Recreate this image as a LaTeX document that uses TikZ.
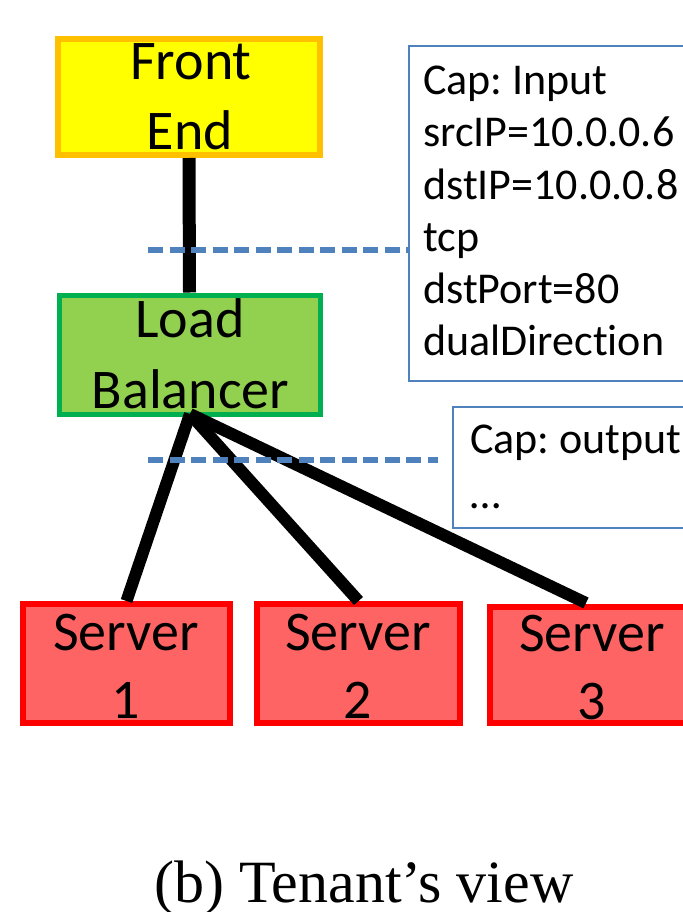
\documentclass[tikz,border=0pt]{standalone}
\usepackage{fontspec}
\setmainfont[Ligatures=NoCommon]{Carlito}
\newfontfamily\captionfont{Liberation Serif}
\frenchspacing
\definecolor{feFill}{HTML}{FFFF00}
\definecolor{feLine}{HTML}{FFC000}
\definecolor{lbFill}{HTML}{92D050}
\definecolor{lbLine}{HTML}{00B050}
\definecolor{srvFill}{HTML}{FF6464}
\definecolor{srvLine}{HTML}{FF0000}
\definecolor{capBlue}{HTML}{4F81BD}
\begin{document}
\begin{tikzpicture}[x=1pt,y=-1pt,
  box/.style={draw, rectangle, inner sep=0pt, line width=6pt},
  boxtext/.style={anchor=base, inner sep=0pt, font=\fontsize{56}{70}\selectfont},
  captext/.style={anchor=base west, inner sep=0pt, font=\fontsize{44}{52}\selectfont},
  capbox/.style={draw=capBlue, line width=2pt, rectangle, inner sep=0pt},
  link/.style={line width=12pt, black},
  tap/.style={draw=capBlue, line width=6pt, dash pattern=on 15pt off 6.5pt}]
\useasboundingbox (0,0) rectangle (682,912);

% component boxes
\node[box, fill=feFill, draw=feLine, minimum width=262pt, minimum height=116pt] (fe) at (189,97) {};
\node[box, fill=lbFill, draw=lbLine, line width=5pt, minimum width=261pt, minimum height=119pt] (lb) at (189.5,354.5) {};
\node[box, fill=srvFill, draw=srvLine, minimum width=207pt, minimum height=119pt] (s1) at (126.5,663.5) {};
\node[box, fill=srvFill, draw=srvLine, minimum width=203pt, minimum height=119pt] (s2) at (358.5,663.5) {};
\node[box, fill=srvFill, draw=srvLine, minimum width=206pt, minimum height=116pt] (s3) at (593,665) {};

% box labels
\node[boxtext] (feA) at (191,80) {Front};
\node[boxtext] (feB) at (190,150) {End};
\node[boxtext] (lbA) at (190,337) {Load};
\node[boxtext] (lbB) at (190.5,408) {Balancer};
\node[boxtext] (s1A) at (126,650) {Server};
\node[boxtext] (s1B) at (126,718) {1};
\node[boxtext] (s2A) at (358,650) {Server};
\node[boxtext] (s2B) at (358,718) {2};
\node[boxtext] (s3A) at (592,651) {Server};
\node[boxtext] (s3B) at (592,719) {3};

% capability boxes
\node[capbox, minimum width=291pt, minimum height=335pt] (cin) at (554.5,213.5) {};
\foreach \t [count=\i] in {Cap: Input, srcIP=10.0.0.6, dstIP=10.0.0.8, tcp, dstPort=80, dualDirection}
  \node[captext] (cin\i) at (423,{95+52*(\i-1)}) {\t};
\node[capbox, minimum width=247pt, minimum height=121pt] (cout) at (576.5,467.5) {};
\node[captext] (cout1) at (470,453) {Cap: output};
\node[captext] (cout2) at (470,508) {…};

% links
\draw[link, line width=13pt] (fe.south) -- (lb.north);
\coordinate (fan) at (190,414);
\coordinate (s3top) at (586,603);
\draw[link] (fan) -- (s1.north);
\draw[link] (fan) -- (s2.north);
\draw[link] (fan) -- (s3top);

% tap lines
\coordinate (d1) at (148,250);
\coordinate (d2) at (148,460);
\coordinate (d2e) at (438,460);
\draw[tap] (d1) -- (d1 -| cin.west);
\draw[tap] (d2) -- (d2e);

% caption
\node[anchor=base, inner sep=0pt, font=\captionfont\fontsize{60}{70}\selectfont] (cap) at (364,902) {(b) Tenant’s view};
\end{tikzpicture}
\end{document}
